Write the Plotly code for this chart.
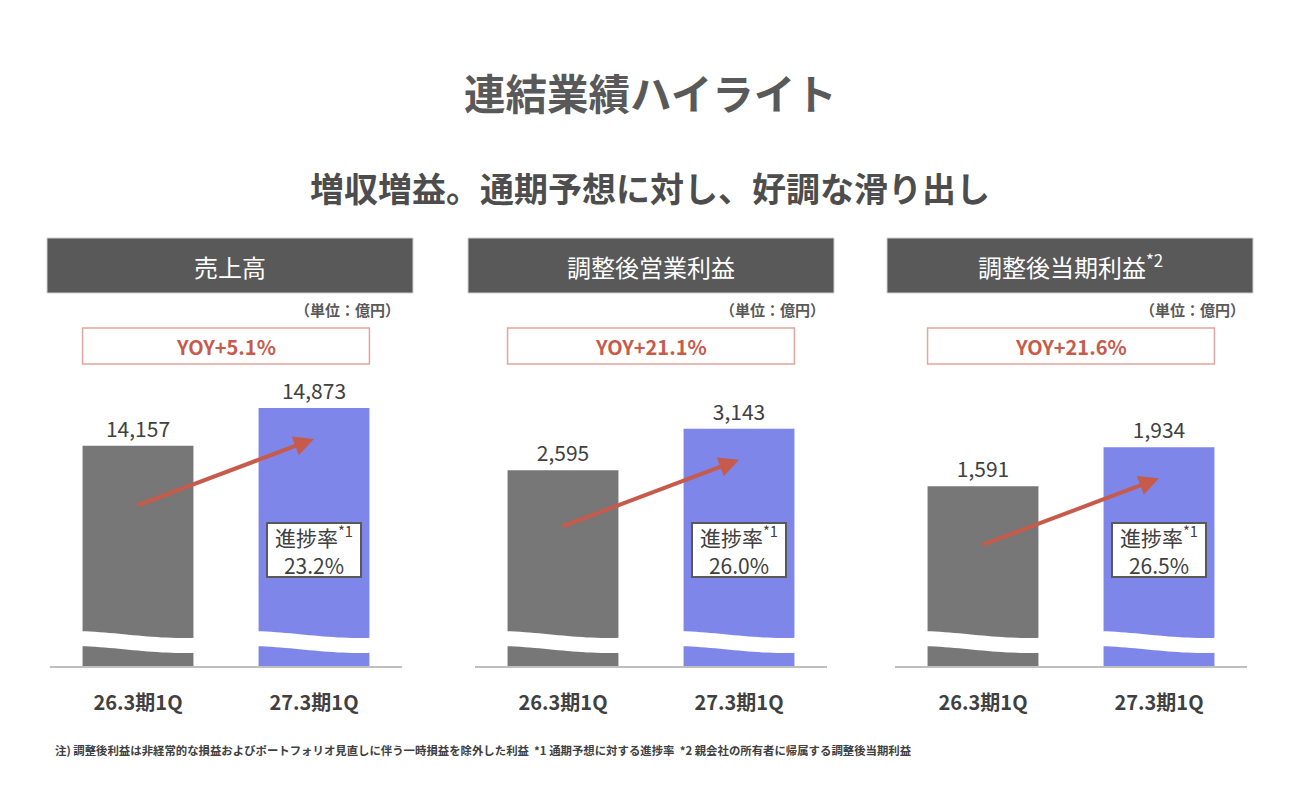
import math
import plotly.graph_objects as go

# data
panel_titles = ["売上高", "調整後営業利益", "調整後当期利益<sup>*2</sup>"]
periods = ["26.3期1Q", "27.3期1Q"]
prev_values = [14157, 2595, 1591]
curr_values = [14873, 3143, 1934]
yoy_labels = ["YOY+5.1%", "YOY+21.1%", "YOY+21.6%"]
progress_rates = ["23.2%", "26.0%", "26.5%"]
# broken-axis ranges (the first panel starts well above zero)
y_ranges = [[10000, 15400], [0, 3790], [0, 2530]]

W, H = 1300, 800
PAGE_MARGIN = 8  # the page body adds this offset around the figure
FONT = "Noto Sans CJK JP"
TXT = "#404040"
GRAY_BAR = "#777777"
BLUE_BAR = "#7F86EA"
HEADER = "#595959"
RED = "#C65B4C"
BAR_W = 0.63

# pixel layout of the three panels
axis_left = [50, 475, 895]
axis_width = 352
header_left = [47, 468, 887]
header_width = 366
plot_top, plot_bottom = 380, 666


def px(x):
    return (x - PAGE_MARGIN) / W


def py(y):
    return 1 - (y - PAGE_MARGIN) / H


def label(x, y, text, size, color=TXT, weight="normal", xref="paper", **kw):
    d = dict(xref=xref, yref="paper", x=x, y=y, text=text, showarrow=False,
             xanchor="center", yanchor="middle",
             font=dict(family=FONT, size=size, color=color, weight=weight))
    d.update(kw)
    return d


fig = go.Figure()
shapes = []
annotations = []

for i in range(3):
    xa = "x" if i == 0 else f"x{i + 1}"
    ya = "y" if i == 0 else f"y{i + 1}"
    fig.add_trace(go.Bar(
        x=[0, 1], y=[prev_values[i], curr_values[i]],
        width=BAR_W, marker=dict(color=[GRAY_BAR, BLUE_BAR], line=dict(width=0)),
        texttemplate="%{y:,}", textposition="outside", cliponaxis=False,
        textfont=dict(family=FONT, size=21, color=TXT),
        xaxis=xa, yaxis=ya, showlegend=False, hoverinfo="skip",
    ))

    fig.update_layout({("xaxis" if i == 0 else f"xaxis{i + 1}"): dict(
        domain=[px(axis_left[i]), px(axis_left[i] + axis_width)],
        range=[-0.5, 1.5], tickmode="array", tickvals=[0, 1], ticktext=periods,
        showline=True, linecolor="#BFBFBF", linewidth=1.5, showgrid=False,
        zeroline=False, ticks="", ticklabelstandoff=18,
        tickfont=dict(family=FONT, size=20, color=TXT, weight="bold"),
        anchor=ya,
    )})
    fig.update_layout({("yaxis" if i == 0 else f"yaxis{i + 1}"): dict(
        domain=[py(plot_bottom), py(plot_top)], range=y_ranges[i],
        visible=False, anchor=xa,
    )})

    # header band
    shapes.append(dict(type="rect", xref="paper", yref="paper",
                       x0=px(header_left[i]), x1=px(header_left[i] + header_width),
                       y0=py(293), y1=py(238), fillcolor=HEADER,
                       line=dict(color="#D0D0D0", width=1), layer="below"))
    annotations.append(label(px(header_left[i] + header_width / 2), py(266),
                             panel_titles[i], 24, color="white"))
    # unit
    annotations.append(label(px(axis_left[i] + axis_width), py(310), "（単位：億円）",
                             15, color=HEADER, weight="bold", xanchor="right"))
    # YOY box spans both bars
    shapes.append(dict(type="rect", xref=xa, yref="paper",
                       x0=-BAR_W / 2, x1=1 + BAR_W / 2, y0=py(364), y1=py(328),
                       fillcolor="white", line=dict(color="#E3A59D", width=1.5)))
    annotations.append(label(0.5, py(346), yoy_labels[i], 20, color=RED,
                             weight="bold", xref=xa))

    # wavy break across each bar
    for b in range(2):
        x0 = b - BAR_W / 2 - 0.01
        x1 = b + BAR_W / 2 + 0.01
        n = 24
        top = []
        for k in range(n + 1):
            t = k / n
            top.append((x0 + (x1 - x0) * t, 634.5 + 3.5 * math.sin(math.pi * (t - 0.4))))
        bottom = [(x, y + 15) for x, y in reversed(top)]
        path = "M " + " L ".join(f"{x:.4f},{py(y):.5f}" for x, y in top + bottom) + " Z"
        shapes.append(dict(type="path", xref=xa, yref="paper", path=path,
                           fillcolor="white", line=dict(width=0), layer="above"))

    # growth arrow
    annotations.append(dict(xref=xa, yref=ya, x=1, y=curr_values[i], yshift=-31,
                            ax=-178, ay=67, text="", showarrow=True,
                            arrowhead=2, arrowsize=1, arrowwidth=4,
                            arrowcolor=RED, standoff=0))
    # progress rate box
    annotations.append(label(1, py(550), f"進捗率<sup>*1</sup><br>{progress_rates[i]}",
                             21, xref=xa, bgcolor="white", bordercolor=HEADER,
                             borderwidth=2, borderpad=1, width=90, height=50))

annotations.append(label(0.5 - PAGE_MARGIN / W, py(92), "連結業績ハイライト", 41.5,
                         color=HEADER, weight="bold"))
annotations.append(label(0.5 - PAGE_MARGIN / W, py(187), "増収増益。通期予想に対し、好調な滑り出し",
                         34, color="#4D4D4D", weight="bold"))
annotations.append(label(px(53), py(750),
                         "注) 調整後利益は非経常的な損益およびポートフォリオ見直しに伴う一時損益を除外した利益"
                         "  *1 通期予想に対する進捗率  *2 親会社の所有者に帰属する調整後当期利益",
                         11.4, weight="bold", xanchor="left"))

fig.update_layout(
    width=W, height=H, margin=dict(l=0, r=0, t=0, b=0),
    paper_bgcolor="white", plot_bgcolor="white",
    shapes=shapes, annotations=annotations,
    font=dict(family=FONT),
)

fig.write_html("out.html")
